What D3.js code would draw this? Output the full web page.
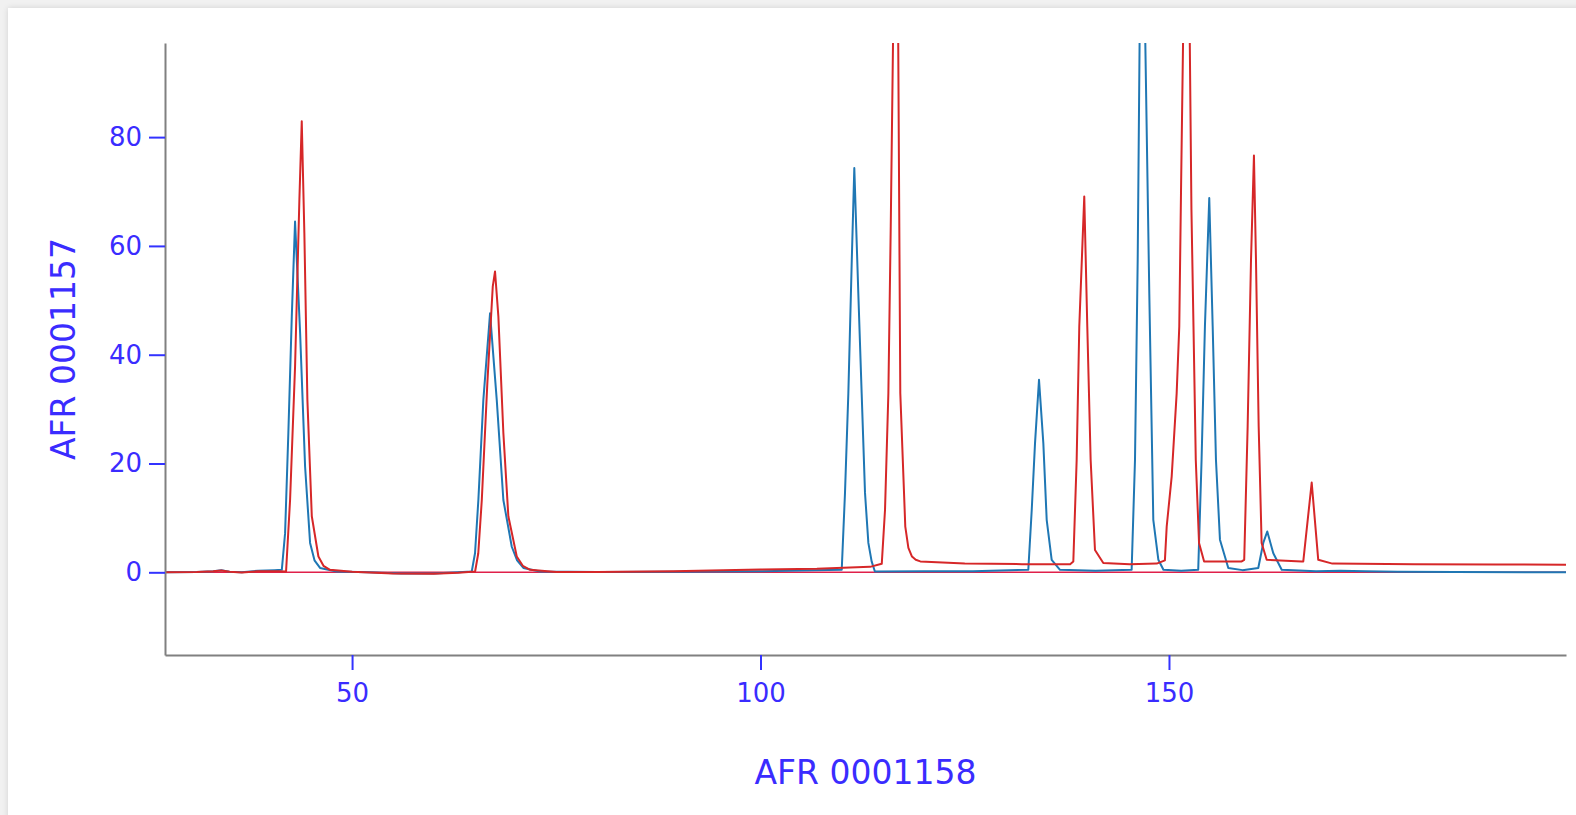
<!DOCTYPE html>
<html>
<head>
<meta charset="utf-8">
<script src="https://cdn.jsdelivr.net/npm/d3@7"></script>
<style>
  html, body { margin: 0; padding: 0; width: 1576px; height: 815px; overflow: hidden; background: #f1f1f1; }
  #card { position: absolute; left: 8px; top: 8px; width: 1600px; height: 840px; background: #fff;
          box-shadow: 0 0 6px rgba(0,0,0,0.13); }
  svg { position: absolute; left: 0; top: 0; }
</style>
</head>
<body>
<div id="card"></div>
<svg id="chart"></svg>
<script>
// traces: [x, y]
const blueTrace = [
  [27.1,0],[31,0.05],[33,0.2],[34,0.4],[35,0.1],[36.5,0],[38.5,0.3],[40.5,0.4],
  [41.4,0.46],[41.8,7.2],[42.2,25.6],[42.62,47],[43.02,64.5],[43.64,44],[44.25,19.4],[44.86,5.4],[45.4,2.2],[46.08,0.8],[48.1,0.15],
  [52,0],[56,-0.2],[60,-0.2],[63,0],
  [64.65,0.15],[65.05,3.5],[65.46,13.3],[66.07,31.7],[66.89,47.6],[67.71,31.7],[68.52,13.3],[69.55,4.7],[70.2,2.2],[70.97,0.8],[73,0.15],
  [80,0.05],[90,0.1],[100,0.2],
  [109.94,0.46],[110.34,14.6],[110.75,32.9],[111.17,57.4],[111.48,74.3],[111.97,51.3],[112.38,32.9],[112.79,14.6],[113.2,5.4],[113.6,2.0],[114,0.15],
  [120,0.2],[126,0.2],
  [132.78,0.46],[133.2,11.5],[133.6,23.7],[134.09,35.4],[134.62,23.7],[135.03,9.65],[135.64,2.3],[136.66,0.46],
  [141,0.3],
  [145.43,0.46],[145.84,20.7],[146.17,57.4],[146.65,140],[147.59,51.3],[148.08,9.65],[148.7,2.3],[149.32,0.46],
  [151.5,0.3],
  [153.58,0.46],[153.99,20.7],[154.4,45.2],[154.93,68.8],[155.35,45.2],[155.75,20.7],[156.24,6],[157.26,0.8],
  [159,0.4],
  [160.93,0.8],[161.54,5.4],[162.03,7.5],[162.77,3.5],[163.8,0.46],
  [168,0.2],[171,0.3],[174,0.2],[178,0.1],[185,0.05],[198.6,0]
];

const redTrace = [
  [27.1,0],[31,0.05],[33,0.2],[34,0.35],[35,0.1],[36.5,-0.05],[38.5,0.2],[41,0.2],
  [41.92,0.15],[42.41,13.3],[43.02,37.8],[43.55,68.5],[43.84,82.9],[44.16,62.3],[44.53,31.7],[45.07,10.3],[45.88,2.9],[46.5,1.2],[47.3,0.46],
  [50,0.1],[55,-0.2],[60,-0.25],[63,-0.1],
  [65.06,0.15],[65.45,3.5],[65.88,13.3],[66.56,34.8],[67.22,52.5],[67.5,55.3],[67.91,47],[68.52,25.6],[69.13,10.3],[70.16,2.9],[70.9,1.2],[71.8,0.46],
  [75,0.05],[80,0.05],[89.3,0.2],[100,0.5],[106.9,0.64],[113.4,1.0],
  [114.84,1.56],[115.24,11.5],[115.65,32.9],[115.94,63.6],[116.65,150],[117.11,32.9],[117.72,8.4],[118.1,4.5],[118.54,2.9],[119.0,2.3],[119.56,2.0],
  [125,1.6],[132,1.5],[137.9,1.5],
  [138.29,2.0],[138.7,20.7],[139.02,45.2],[139.63,69.1],[140.0,45.2],[140.41,20.7],[140.94,4.1],[141.96,1.7],
  [145.2,1.5],[148.5,1.6],
  [149.5,2.2],[149.72,8.4],[150.33,17.6],[150.94,32.9],[151.26,45.2],[151.47,69.7],[152.2,150],[152.75,66.6],[153.0,45.2],[153.28,20.7],[153.68,5.4],[154.3,2.0],
  [158.9,2.0],
  [159.21,2.3],[159.63,26.8],[160.04,57.4],[160.4,76.6],[160.65,57.4],[160.98,26.8],[161.34,5.4],[161.96,2.3],
  [166.24,2.0],
  [166.44,2.0],[167.47,16.5],[168.27,2.3],
  [170,1.6],[180,1.5],[190,1.45],[198.6,1.4]
];

const xTicks = [50, 100, 150];
const yTicks = [0, 20, 40, 60, 80];
const xTitle = "AFR 0001158";
const yTitle = "AFR 0001157";

const W = 1576, H = 815;
const plotLeft = 165, plotRight = 1566, plotTop = 43, plotBottom = 655;
const textBlue = "#3a2cff";
const font = "'DejaVu Sans', Verdana, sans-serif";

const svg = d3.select("#chart").attr("width", W).attr("height", H);

const x = d3.scaleLinear().domain([27.1, 198.6]).range([plotLeft, plotRight]);
const y = d3.scaleLinear().domain([-15.2, 97.3]).range([plotBottom, plotTop]);

svg.append("defs").append("clipPath").attr("id", "plot")
  .append("rect").attr("x", plotLeft).attr("y", plotTop)
  .attr("width", plotRight - plotLeft).attr("height", plotBottom - plotTop);

const plot = svg.append("g").attr("clip-path", "url(#plot)");

// zero line
plot.append("line")
  .attr("x1", plotLeft).attr("x2", plotRight)
  .attr("y1", y(0)).attr("y2", y(0))
  .attr("stroke", "#e0204a").attr("stroke-width", 1.5);

const line = d3.line().x(d => x(d[0])).y(d => y(d[1]));

plot.append("path").datum(blueTrace)
  .attr("d", line).attr("fill", "none")
  .attr("stroke", "#1f77b4").attr("stroke-width", 2).attr("stroke-linejoin", "round");

plot.append("path").datum(redTrace)
  .attr("d", line).attr("fill", "none")
  .attr("stroke", "#d62728").attr("stroke-width", 2).attr("stroke-linejoin", "round");

function styleAxis(g) {
  g.select(".domain").attr("stroke", "#808080").attr("stroke-width", 2);
  g.selectAll(".tick line").attr("stroke", "#3333ff").attr("stroke-width", 2);
  g.selectAll(".tick text")
    .attr("fill", textBlue)
    .style("font-family", font)
    .style("font-size", "26px");
}

svg.append("g")
  .attr("transform", `translate(0,${plotBottom})`)
  .call(d3.axisBottom(x).tickValues(xTicks).tickSize(15).tickSizeOuter(0).tickPadding(14))
  .call(styleAxis);

svg.append("g")
  .attr("transform", `translate(${plotLeft},0)`)
  .call(d3.axisLeft(y).tickValues(yTicks).tickSize(16).tickSizeOuter(0).tickPadding(7))
  .call(styleAxis);

svg.append("text")
  .attr("x", (plotLeft + plotRight) / 2).attr("y", 784)
  .attr("text-anchor", "middle")
  .attr("fill", textBlue)
  .style("font-family", font)
  .style("font-size", "33px")
  .text(xTitle);

svg.append("text")
  .attr("transform", `translate(75,${(plotTop + plotBottom) / 2}) rotate(-90)`)
  .attr("text-anchor", "middle")
  .attr("fill", textBlue)
  .style("font-family", font)
  .style("font-size", "33px")
  .text(yTitle);
</script>
</body>
</html>
